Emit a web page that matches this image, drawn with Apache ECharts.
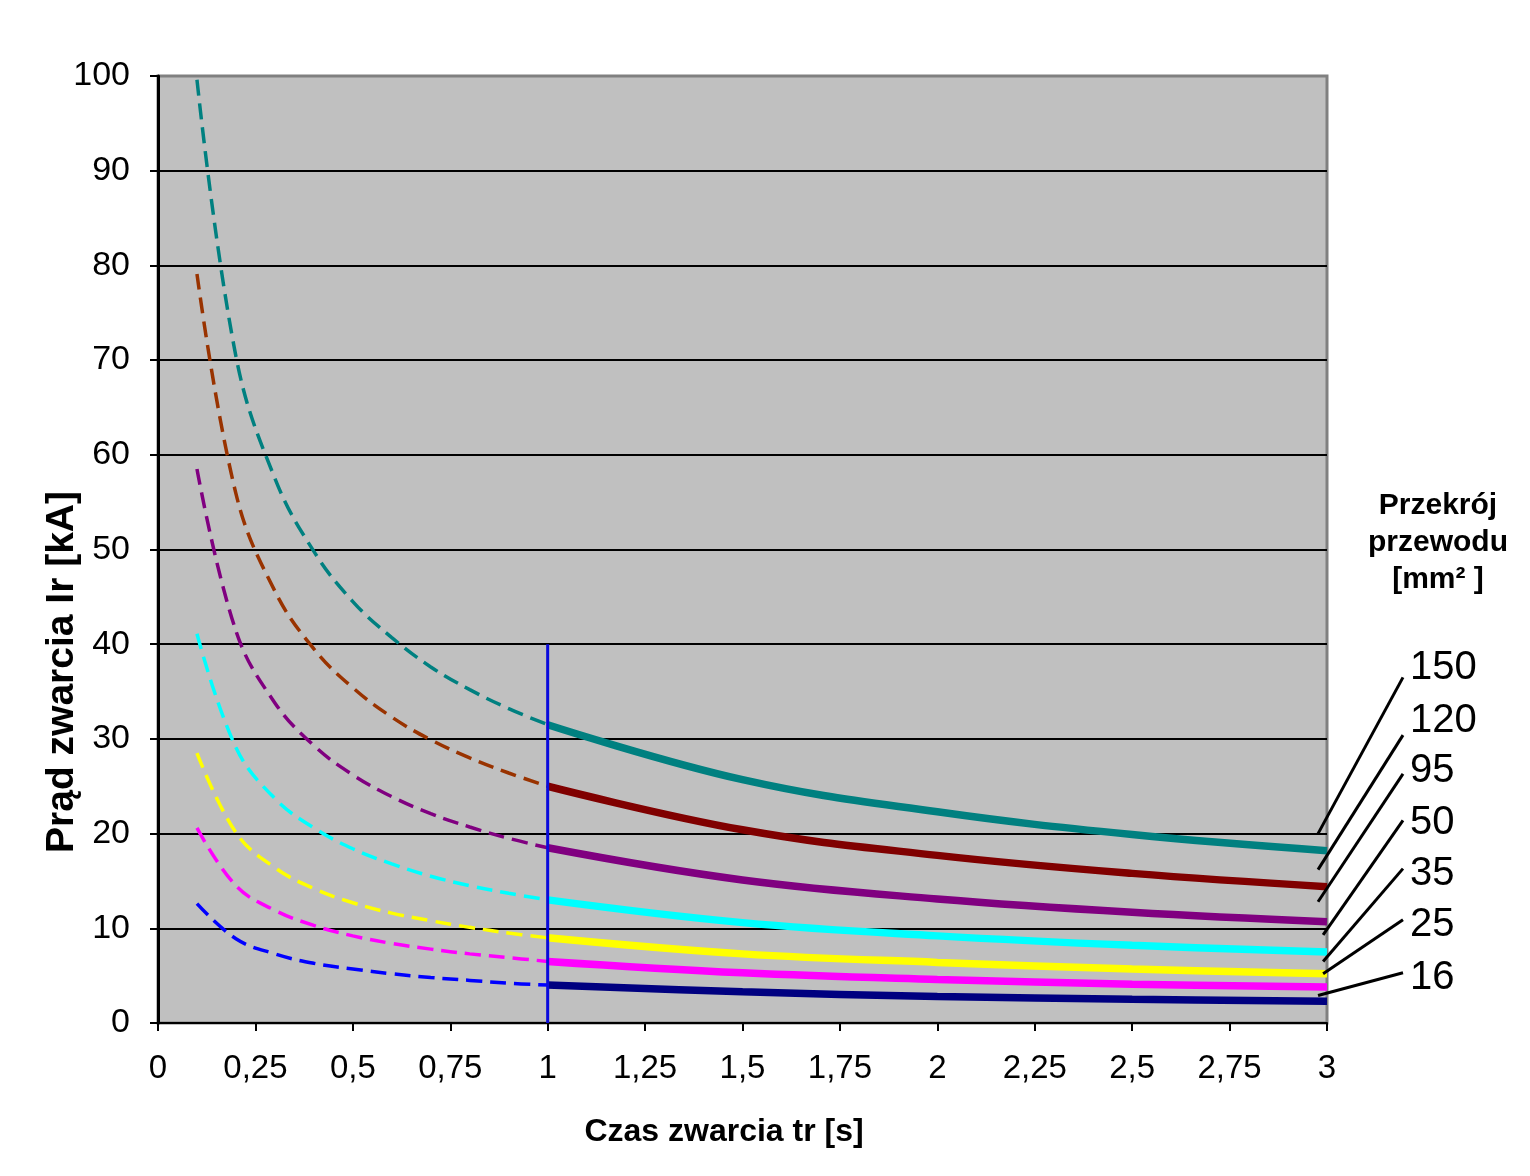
<!DOCTYPE html>
<html>
<head>
<meta charset="utf-8">
<script src="https://cdn.jsdelivr.net/npm/echarts@6/dist/echarts.min.js"></script>
<style>
html,body{margin:0;padding:0;background:#fff;}
#c{width:1530px;height:1176px;}
</style>
</head>
<body>
<div id="c"></div>
<script>
// ---- data ----
const sections = ['150', '120', '95', '50', '35', '25', '16'];
const tDashed = [0.1, 0.2, 0.3, 0.4, 0.5, 0.6, 0.7, 0.8, 0.9, 1.0];
const tSolid = [1, 1.5, 2, 2.5, 3];

const i150Dashed = [99.6, 70.4, 57.5, 49.8, 44.5, 40.7, 37.6, 35.2, 33.2, 31.5];
const i120Dashed = [79.1, 55.9, 45.6, 39.5, 35.4, 32.3, 29.9, 28.0, 26.4, 25.0];
const i95Dashed  = [58.5, 41.4, 33.8, 29.3, 26.2, 23.9, 22.1, 20.7, 19.5, 18.5];
const i50Dashed  = [41.1, 29.1, 23.7, 20.6, 18.4, 16.8, 15.5, 14.5, 13.7, 13.0];
const i35Dashed  = [28.5, 20.1, 16.4, 14.2, 12.7, 11.6, 10.8, 10.1, 9.5, 9.0];
const i25Dashed  = [20.6, 14.5, 11.9, 10.3, 9.2, 8.4, 7.8, 7.3, 6.9, 6.5];
const i16Dashed  = [12.6, 8.9, 7.3, 6.3, 5.7, 5.2, 4.8, 4.5, 4.2, 4.0];

const i150Solid = [31.5, 25.7, 22.3, 19.9, 18.2];
const i120Solid = [25.0, 20.4, 17.7, 15.8, 14.4];
const i95Solid  = [18.5, 15.1, 13.1, 11.7, 10.7];
const i50Solid  = [13.0, 10.6, 9.2, 8.2, 7.5];
const i35Solid  = [9.0, 7.3, 6.4, 5.7, 5.2];
const i25Solid  = [6.5, 5.3, 4.6, 4.1, 3.8];
const i16Solid  = [4.0, 3.3, 2.8, 2.5, 2.3];

const markerT = [1, 1];
const markerI = [0, 40];

const xTicks = [0, 0.25, 0.5, 0.75, 1, 1.25, 1.5, 1.75, 2, 2.25, 2.5, 2.75, 3];

// ---- styles ----
const dashedValues = [i150Dashed, i120Dashed, i95Dashed, i50Dashed, i35Dashed, i25Dashed, i16Dashed];
const solidValues = [i150Solid, i120Solid, i95Solid, i50Solid, i35Solid, i25Solid, i16Solid];
const dashedColors = ['#008080', '#993300', '#800080', '#00FFFF', '#FFFF00', '#FF00FF', '#0000FF'];
const solidColors  = ['#008080', '#800000', '#800080', '#00FFFF', '#FFFF00', '#FF00FF', '#000080'];

const pairs = (xs, ys) => xs.map((x, i) => [x, ys[i]]);

const series = [];
sections.forEach((s, k) => {
  series.push({
    name: s + ' dashed', type: 'line', smooth: 0.4,
    showSymbol: false, symbol: 'none', z: 3,
    data: pairs(tDashed, dashedValues[k]),
    lineStyle: { color: dashedColors[k], width: 3.5, type: [16, 8] }
  });
});
sections.forEach((s, k) => {
  series.push({
    name: s, type: 'line', smooth: 0.4,
    showSymbol: false, symbol: 'none', z: 4,
    data: pairs(tSolid, solidValues[k]),
    lineStyle: { color: solidColors[k], width: 7.5 }
  });
});
series.push({
  name: 'marker', type: 'line', showSymbol: false, symbol: 'none', z: 5,
  data: pairs(markerT, markerI),
  lineStyle: { color: '#0A0ADC', width: 3 }
});

const FONT = '"Liberation Sans", Arial, sans-serif';

const chart = echarts.init(document.getElementById('c'), null, { renderer: 'canvas' });
chart.setOption({
  animation: false,
  backgroundColor: '#ffffff',
  grid: {
    left: 158, top: 76, right: 203, bottom: 153,
    show: true, backgroundColor: '#C0C0C0', borderColor: '#808080', borderWidth: 3
  },
  xAxis: {
    type: 'value', min: 0, max: 3, interval: 0.25,
    axisLine: { show: true, onZero: false, lineStyle: { color: '#000', width: 2 } },
    axisTick: { show: true, length: 8, lineStyle: { color: '#000', width: 2 } },
    splitLine: { show: false },
    axisLabel: {
      margin: 29, color: '#000', fontSize: 33, fontFamily: FONT,
      formatter: v => String(v).replace('.', ',')
    },
    name: 'Czas zwarcia tr [s]', nameLocation: 'middle', nameGap: 93,
    nameTextStyle: {
      color: '#000', fontSize: 32, fontWeight: 'bold', fontFamily: FONT,
      padding: [0, 37, 0, 0]
    }
  },
  yAxis: {
    type: 'value', min: 0, max: 100, interval: 10,
    axisLine: { show: true, lineStyle: { color: '#000', width: 3 } },
    axisTick: { show: true, length: 8, lineStyle: { color: '#000', width: 2 } },
    splitLine: { show: true, showMaxLine: false, lineStyle: { color: '#000', width: 2 } },
    axisLabel: { margin: 28, color: '#000', fontSize: 34, fontFamily: FONT }
  },
  series: series
});

// ---- annotations (anchored in data space) ----
const labelAnchorX = 3.213;
const labelCenterY = [37.5, 31.9, 26.6, 21.1, 15.7, 10.3, 4.8];
const leaderFromX = 3.195;
const leaderFromY = [36.5, 30.4, 26.3, 21.4, 16.3, 10.9, 5.3];
const leaderToX = [2.977, 2.977, 2.977, 2.99, 2.99, 2.99, 2.977];
const leaderToY = [20.0, 16.2, 12.8, 9.3, 6.5, 5.2, 2.9];

const P = (x, y) => chart.convertToPixel({ gridIndex: 0 }, [x, y]);
const graphics = [];
sections.forEach((s, k) => {
  const a = P(leaderFromX, leaderFromY[k]);
  const b = P(leaderToX[k], leaderToY[k]);
  graphics.push({
    type: 'line', z: 100,
    shape: { x1: a[0], y1: a[1], x2: b[0], y2: b[1] },
    style: { stroke: '#000', lineWidth: 3 }
  });
  const t = P(labelAnchorX, labelCenterY[k]);
  graphics.push({
    type: 'text', z: 100, x: t[0], y: t[1],
    style: { text: s, fill: '#000', font: '40px ' + FONT, textAlign: 'left', textVerticalAlign: 'middle' }
  });
});
graphics.push({
  type: 'text', z: 100, x: 1438, y: 487,
  style: {
    text: 'Przekrój\nprzewodu\n[mm² ]', fill: '#000', font: 'bold 30px ' + FONT,
    textAlign: 'center', textVerticalAlign: 'top', lineHeight: 37
  }
});
graphics.push({
  type: 'text', z: 100, x: 62, y: 672, rotation: Math.PI / 2,
  style: {
    text: 'Prąd zwarcia Ir [kA]', fill: '#000', font: 'bold 39px ' + FONT,
    textAlign: 'center', textVerticalAlign: 'middle'
  }
});
chart.setOption({ graphic: graphics });
</script>
</body>
</html>
